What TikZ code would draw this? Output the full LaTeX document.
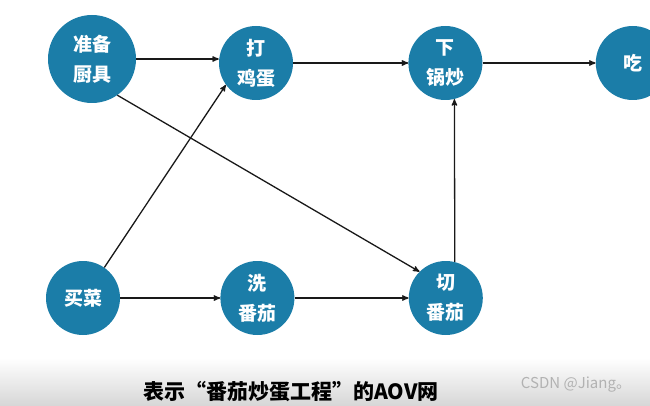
\documentclass[tikz,border=0pt]{standalone}
\usepackage{fontspec}
\setmainfont{Noto Sans CJK SC}
\usepackage{tikz}
\usetikzlibrary{arrows,backgrounds,positioning}
\definecolor{aovblue}{RGB}{27,125,168}
\tikzset{
  aovnode/.style = {align=center, inner sep=0pt, text centered,
    font=\fontsize{19}{30}\selectfont\bfseries},
  aov_n/.style = {aovnode, circle, white, draw=none,
    fill=aovblue, minimum size=74pt},% vertex of the AOV net
  aov_b/.style = {aov_n, minimum size=88pt},% larger vertex
  aov_e/.style = {->, black!90, line width=1.3pt}% activity edge
}
\begin{document}
\begin{tikzpicture}[x=1pt,y=-1pt,>=stealth']
    \useasboundingbox (0,0) rectangle (650,406);
    \shade[top color=white, bottom color=black!16] (0,358) rectangle (650,406);
    \node [aov_b] (A) at (92,59) {准备\\厨具};
    \node [aov_n] (B) at (256,63) {打\\鸡蛋};
    \node [aov_n, right=115pt of B] (C) {下\\锅炒};
    \node [aov_n, right=113pt of C] (D) {吃};
    \node [aov_n] (E) at (83,298) {买菜};
    \node [aov_n, right=100pt of E] (F) {洗\\番茄};
    \node [aov_n, right=114pt of F] (G) {切\\番茄};
    \draw [aov_e] (A.east) -- (A.east -| B.west);
    \draw [aov_e] (B.east) -- (C.west);
    \draw [aov_e] (C.east) -- (D.west);
    \draw [aov_e] (A.-55) -- (G.135);
    \draw [aov_e] (E.55) -- (B.-144);
    \draw [aov_e] (E.east) -- (F.west);
    \draw [aov_e] (F.east) -- (G.west);
    \draw [aov_e] (G.76) -- (C.-76);
    \node [font=\fontsize{21}{24}\selectfont\bfseries] (cap) at (291,392)
        {表示“番茄炒蛋工程”的AOV网};
    \node [font=\fontsize{15}{18}\selectfont, black!30] (mark) at (576,385)
        {CSDN @Jiang。};
\end{tikzpicture}
\end{document}
